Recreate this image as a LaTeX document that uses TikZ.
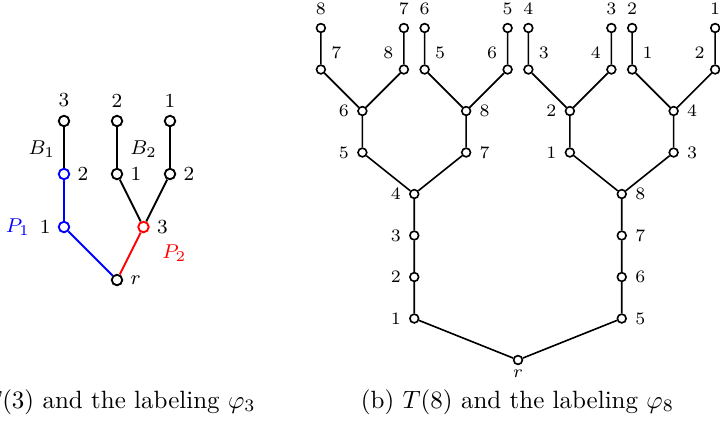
\documentclass[tikz,border=0pt]{standalone}
\usetikzlibrary{positioning}

\tikzset{
  vtx/.style={circle, draw, fill=white, inner sep=0pt},
  leaflbl/.style={label distance=1.1pt},
  diaglbl/.style={label distance=-0.2pt},
}

\begin{document}
\begin{tikzpicture}
\useasboundingbox (0,0) rectangle (288pt,169.6pt);
\clip (0,0) rectangle (288pt,169.6pt);

\begin{scope}[shift={(46.8pt,57.6pt)}, x=21.2pt, y=21.2pt, on grid, line width=0.75pt,
  every node/.append style={font=\footnotesize}, every label/.style={inner sep=1pt}, label distance=1.6pt,
  vtx/.append style={minimum size=4.2pt}]
\node (r) [vtx, label=right:$r$] {};
\node (p1) [vtx, draw=blue, above left=1 and 1 of r, label=left:1] {};
\node (p2) [vtx, draw=blue, above=1 of p1, label=right:2] {};
\node (t3) [vtx, above=1 of p2, leaflbl, label=above:3] {};
\node (q3) [vtx, draw=red, above right=1 and 0.5 of r, label=right:3] {};
\node (q1) [vtx, above left=1 and 0.5 of q3, label=right:1] {};
\node (q2) [vtx, above right=1 and 0.5 of q3, label=right:2] {};
\node (t2) [vtx, above=1 of q1, leaflbl, label=above:2] {};
\node (t1) [vtx, above=1 of q2, leaflbl, label=above:1] {};
\node (b1) [above left=0.47 and 0.42 of p2] {$B_1$};
\node (b2) [above right=0.47 and 0.5 of q1] {$B_2$};
\node (pp1) [left=0.87 of p1, text=blue] {$P_1$};
\node (pp2) [below right=0.49 and 0.58 of q3, text=red] {$P_2$};

\draw[blue] (r) -- (p1) -- (p2);
\draw (p2) -- (t3);
\draw[red] (r) -- (q3);
\draw (q3) -- (q1) -- (t2);
\draw (q3) -- (q2) -- (t1);
\end{scope}

\begin{scope}[shift={(207.2pt,25.6pt)}, x=16.6pt, y=16.6pt, on grid, line width=0.65pt,
  every node/.append style={font=\scriptsize}, every label/.style={inner sep=1pt}, label distance=2pt,
  vtx/.append style={minimum size=3.5pt}]
\node (r) [vtx, label={[label distance=0.4pt]below:$r$}] {};
\node (a1) [vtx, above left=1 and 2.5 of r, label=left:1] {};
\node (a2) [vtx, above=1 of a1, label=left:2] {};
\node (a3) [vtx, above=1 of a2, label=left:3] {};
\node (a4) [vtx, above=1 of a3, label=left:4] {};
\node (a5) [vtx, above left=1 and 1.25 of a4, label=left:5] {};
\node (a7) [vtx, above right=1 and 1.25 of a4, label=right:7] {};
\node (a6) [vtx, above=1 of a5, label=left:6] {};
\node (a8) [vtx, above=1 of a7, label=right:8] {};
\node (a67) [vtx, above left=1 and 1 of a6, diaglbl, label=above right:7] {};
\node (a68) [vtx, above right=1 and 1 of a6, diaglbl, label=above left:8] {};
\node (a85) [vtx, above left=1 and 1 of a8, diaglbl, label=above right:5] {};
\node (a86) [vtx, above right=1 and 1 of a8, diaglbl, label=above left:6] {};
\node (s8) [vtx, above=1 of a67, leaflbl, label=above:8] {};
\node (s7) [vtx, above=1 of a68, leaflbl, label=above:7] {};
\node (s6) [vtx, above=1 of a85, leaflbl, label=above:6] {};
\node (s5) [vtx, above=1 of a86, leaflbl, label=above:5] {};

\node (b5) [vtx, above right=1 and 2.5 of r, label=right:5] {};
\node (b6) [vtx, above=1 of b5, label=right:6] {};
\node (b7) [vtx, above=1 of b6, label=right:7] {};
\node (b8) [vtx, above=1 of b7, label=right:8] {};
\node (c1) [vtx, above left=1 and 1.25 of b8, label=left:1] {};
\node (c3) [vtx, above right=1 and 1.25 of b8, label=right:3] {};
\node (c2) [vtx, above=1 of c1, label=left:2] {};
\node (c4) [vtx, above=1 of c3, label=right:4] {};
\node (c23) [vtx, above left=1 and 1 of c2, diaglbl, label=above right:3] {};
\node (c24) [vtx, above right=1 and 1 of c2, diaglbl, label=above left:4] {};
\node (c41) [vtx, above left=1 and 1 of c4, diaglbl, label=above right:1] {};
\node (c42) [vtx, above right=1 and 1 of c4, diaglbl, label=above left:2] {};
\node (s4) [vtx, above=1 of c23, leaflbl, label=above:4] {};
\node (s3) [vtx, above=1 of c24, leaflbl, label=above:3] {};
\node (s2) [vtx, above=1 of c41, leaflbl, label=above:2] {};
\node (s1) [vtx, above=1 of c42, leaflbl, label=above:1] {};

\draw (r) -- (a1) -- (a2) -- (a3) -- (a4);
\draw (a4) -- (a5) -- (a6);
\draw (a4) -- (a7) -- (a8);
\draw (a6) -- (a67) -- (s8);
\draw (a6) -- (a68) -- (s7);
\draw (a8) -- (a85) -- (s6);
\draw (a8) -- (a86) -- (s5);
\draw (r) -- (b5) -- (b6) -- (b7) -- (b8);
\draw (b8) -- (c1) -- (c2);
\draw (b8) -- (c3) -- (c4);
\draw (c2) -- (c23) -- (s4);
\draw (c2) -- (c24) -- (s3);
\draw (c4) -- (c41) -- (s2);
\draw (c4) -- (c42) -- (s1);
\end{scope}

\node (capa) [anchor=base] at (39.9pt,6.4pt) {(a) $T(3)$ and the labeling $\varphi_3$};
\node (capb) [anchor=base] at (207pt,6.4pt) {(b) $T(8)$ and the labeling $\varphi_8$};
\end{tikzpicture}
\end{document}
